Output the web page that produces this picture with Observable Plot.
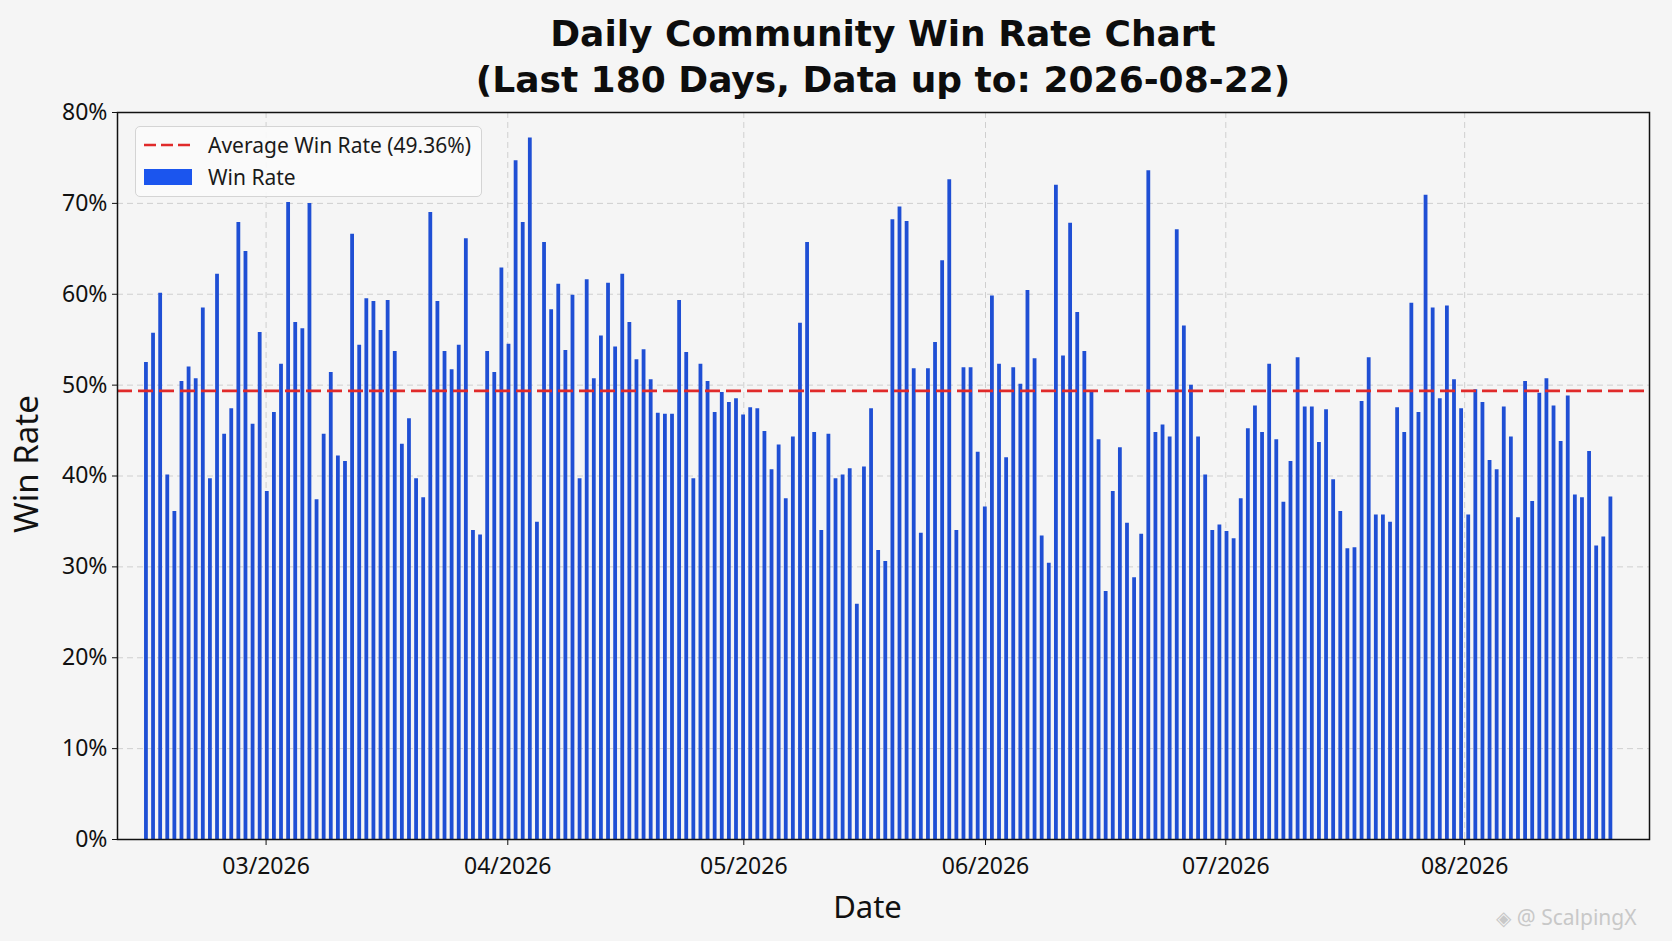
<!DOCTYPE html>
<html>
<head>
<meta charset="utf-8">
<script src="https://cdn.jsdelivr.net/npm/d3@7"></script>
<script src="https://cdn.jsdelivr.net/npm/@observablehq/plot@0.6"></script>
<style>
  html, body { margin: 0; padding: 0; background: #f5f5f5; }
  #wrap { position: relative; width: 1672px; height: 941px; overflow: hidden; background: #f5f5f5; }
  #title { position: absolute; left: 117px; top: 11px; width: 1532px; text-align: center;
           font-family: "DejaVu Sans", sans-serif; font-weight: bold; font-size: 36px; line-height: 46px; color: #0d0d0d; }
  #chart { position: absolute; left: 0; top: 100px; }
  #legend { position: absolute; left: 135px; top: 126px; width: 347px; height: 71px; box-sizing: border-box;
            border: 1px solid #d4d4d4; border-radius: 5px; background: rgba(251,251,251,0.9);
            font-family: "Noto Sans", sans-serif; font-size: 21px; color: #1a1a1a; }
  .row { position: absolute; left: 0; width: 100%; height: 28px; }
  .row svg { position: absolute; left: 8px; top: 6px; }
  .row span { position: absolute; left: 72px; top: 0; line-height: 28px; white-space: nowrap; }
  #wm { position: absolute; left: 1496px; top: 902px; font-family: "Noto Sans", "DejaVu Sans", sans-serif;
        font-size: 21px; line-height: 30px; color: #c8c8c8; white-space: nowrap; }
</style>
</head>
<body>
<div id="wrap">
  <div id="title"></div>
  <div id="chart"></div>
  <div id="legend"></div>
  <div id="wm"></div>
</div>
<script>
// ---- data ----
const titleLines = ["Daily Community Win Rate Chart", "(Last 180 Days, Data up to: 2026-08-22)"];
const averageWinRate = 49.36;
const winRate = [
  52.5, 55.7, 60.1, 40.1, 36.1, 50.4, 52.0, 50.7, 58.5, 39.7, 62.2, 44.6, 47.4, 67.9, 64.7, 45.7,
  55.8, 38.3, 47.0, 52.3, 70.1, 56.9, 56.2, 70.0, 37.4, 44.6, 51.4, 42.2, 41.6, 66.6, 54.4, 59.5,
  59.2, 56.0, 59.3, 53.7, 43.5, 46.3, 39.7, 37.6, 69.0, 59.2, 53.7, 51.7, 54.4, 66.1, 34.0, 33.5,
  53.7, 51.4, 62.9, 54.5, 74.7, 67.9, 77.2, 34.9, 65.7, 58.3, 61.1, 53.8, 59.9, 39.7, 61.6, 50.7,
  55.4, 61.2, 54.2, 62.2, 56.9, 52.8, 53.9, 50.6, 46.9, 46.8, 46.8, 59.3, 53.6, 39.7, 52.3, 50.4,
  47.0, 49.2, 48.1, 48.5, 46.7, 47.5, 47.4, 44.9, 40.7, 43.4, 37.5, 44.3, 56.8, 65.7, 44.8, 34.0,
  44.6, 39.7, 40.1,
  40.8, 25.9, 41.0, 47.4, 31.8, 30.6, 68.2, 69.6, 68.0, 51.8, 33.7, 51.8, 54.7, 63.7, 72.6, 34.0,
  51.9, 51.9, 42.6, 36.6, 59.8, 52.3, 42.0, 51.9, 50.1, 60.4, 52.9, 33.4, 30.4, 72.0, 53.2, 67.8,
  58.0, 53.7,
  49.2, 44.0, 27.3, 38.3, 43.1, 34.8, 28.8, 33.6, 73.6, 44.8, 45.6, 44.3, 67.1, 56.5, 50.0, 44.3,
  40.1, 34.0, 34.6, 33.9, 33.1, 37.5, 45.2, 47.7, 44.8, 52.3, 44.0, 37.1, 41.6, 53.0, 47.6, 47.6,
  43.7, 47.3,
  39.6, 36.1, 32.0, 32.1, 48.2, 53.0, 35.7, 35.7, 34.9, 47.5, 44.8, 59.0, 47.0, 70.9, 58.5, 48.5,
  58.7, 50.6, 47.4, 35.7, 49.5, 48.1, 41.7, 40.7, 47.6, 44.3, 35.4, 50.4, 37.2, 49.1, 50.7, 47.7,
  43.8, 48.8, 37.9, 37.6, 42.7, 32.3, 33.3, 37.7
];
// month starts, expressed in bar-index units of the x scale
const monthTickIdx = [16.9, 50.9, 84.1, 118.1, 151.9, 185.5];
const monthLabels = ["03/2026", "04/2026", "05/2026", "06/2026", "07/2026", "08/2026"];
const yTicks = [0, 10, 20, 30, 40, 50, 60, 70, 80];
const legendLabels = ["Average Win Rate (49.36%)", "Win Rate"];
const xLabel = "Date";
const yLabel = "Win Rate";
const watermark = "@ ScalpingX";

// ---- colours ----
const barColor = "#1f4fd4";
const avgColor = "#e02a2a";
const gridColor = "#cfcfcf";

document.getElementById("title").innerHTML = titleLines.join("<br>");

const chart = Plot.plot({
  width: 1672,
  height: 841,
  marginTop: 12,
  marginBottom: 102,
  marginLeft: 117,
  marginRight: 23,
  style: { background: "transparent", fontFamily: "Noto Sans, sans-serif", fontSize: "23px", color: "#111", overflow: "visible" },
  x: { type: "linear", domain: [-4, 211.5] },
  y: { domain: [0, 80] },
  marks: [
    Plot.gridY(yTicks, { stroke: gridColor, strokeOpacity: 1, strokeWidth: 1, strokeDasharray: "6,4" }),
    Plot.gridX(monthTickIdx, { stroke: gridColor, strokeOpacity: 1, strokeWidth: 1, strokeDasharray: "6,4" }),
    Plot.ruleX(winRate, { x: (d, i) => i, y1: 0, y2: d => d, stroke: barColor, strokeWidth: 3.8 }),
    Plot.ruleY([averageWinRate], { stroke: avgColor, strokeWidth: 2.8, strokeDasharray: "15,6" }),
    Plot.frame({ stroke: "#111", strokeWidth: 1.5 }),
    Plot.axisY(yTicks, { tickFormat: d => d + "%", tickSize: 5, tickPadding: 5, label: null }),
    Plot.axisX(monthTickIdx, { tickFormat: d => monthLabels[monthTickIdx.indexOf(d)], tickSize: 6, tickPadding: 12, label: null }),
    Plot.text([xLabel], { text: d => d, frameAnchor: "bottom", dx: -16, dy: 69, fontSize: 31, textAnchor: "middle", lineAnchor: "middle", fill: "#111" }),
    Plot.text([yLabel], { text: d => d, frameAnchor: "left", dx: -90, dy: -12, rotate: -90, fontSize: 33, textAnchor: "middle", lineAnchor: "middle", fill: "#111" })
  ]
});
document.getElementById("chart").appendChild(chart);

// legend (HTML, placed over the plot's upper-left corner)
const legend = document.getElementById("legend");
legend.innerHTML =
  `<div class="row" style="top:4px"><svg width="48" height="16"><line x1="0" x2="48" y1="8" y2="8" stroke="${avgColor}" stroke-width="2.6" stroke-dasharray="12,5"/></svg><span>${legendLabels[0]}</span></div>` +
  `<div class="row" style="top:36px"><svg width="48" height="16"><rect x="0" y="0" width="48" height="16" fill="#1b55ee"/></svg><span>${legendLabels[1]}</span></div>`;

document.getElementById("wm").innerHTML = `<span style="font-family:'DejaVu Sans';font-size:20px">◈</span> ${watermark}`;
</script>
</body>
</html>
